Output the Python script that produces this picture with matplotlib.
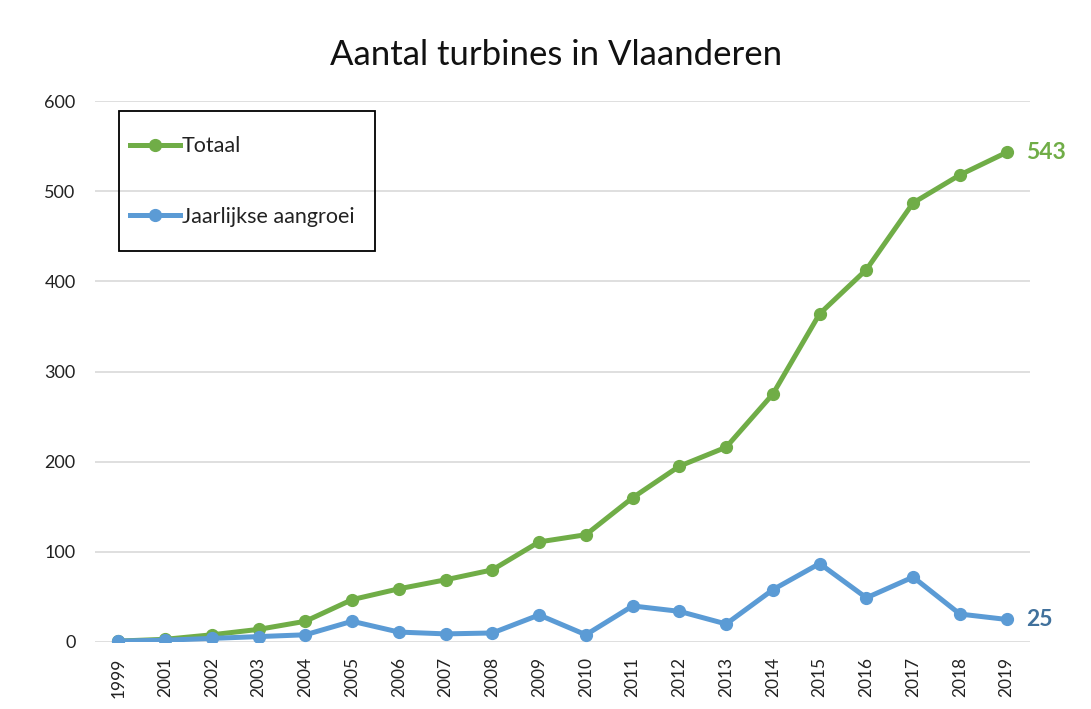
import matplotlib
matplotlib.use("Agg")
import matplotlib.pyplot as plt
from matplotlib.patches import Rectangle
import numpy as np

plt.rcParams['font.family'] = ['Lato', 'DejaVu Sans']

years = ['1999', '2001', '2002', '2003', '2004', '2005', '2006', '2007', '2008', '2009',
         '2010', '2011', '2012', '2013', '2014', '2015', '2016', '2017', '2018', '2019']
totaal = [1, 3, 8, 14, 23, 47, 59, 69, 80, 111,
          119, 160, 195, 216, 275, 364, 413, 487, 518, 543]
aangroei = [1, 2, 4, 6, 8, 23, 11, 9, 10, 30,
            8, 40, 34, 20, 58, 87, 49, 72, 31, 25]
yticks = [0, 100, 200, 300, 400, 500, 600]

green = '#70AD47'
blue = '#5B9BD5'

W, H = 1091, 709
fig = plt.figure(figsize=(W/100, H/100), dpi=100)
ax = fig.add_axes([95/W, 1-642/H, (1030-95)/W, (642-101)/H])

x = np.arange(len(years))
ax.plot(x, totaal, color=green, lw=3.6, marker='o', ms=8.5, label='Totaal',
        solid_joinstyle='round', zorder=3)
ax.plot(x, aangroei, color=blue, lw=3.6, marker='o', ms=8.5, label='Jaarlijkse aangroei',
        solid_joinstyle='round', zorder=3)

ax.set_xlim(-0.5, len(years) - 0.5)
ax.set_ylim(0, 600)
ax.set_yticks(yticks)
ax.set_yticklabels([str(v) for v in yticks], fontsize=13, color='#222222')
ax.set_xticks(x)
ax.set_xticklabels(years, rotation=90, fontsize=12.5, color='#222222')
ax.tick_params(axis='both', length=0)
ax.tick_params(axis='y', pad=14)
ax.tick_params(axis='x', pad=11)
ax.grid(axis='y', color='#D9D9D9', lw=1.2)
ax.set_axisbelow(True)
for s in ax.spines.values():
    s.set_visible(False)

ax.annotate(str(totaal[-1]), xy=(x[-1], totaal[-1]), xytext=(14, 0), textcoords='offset points',
            va='center', ha='left', fontsize=16.5, fontweight='bold', color=green, clip_on=False)
ax.annotate(str(aangroei[-1]), xy=(x[-1], aangroei[-1]), xytext=(14, 0), textcoords='offset points',
            va='center', ha='left', fontsize=16.5, fontweight='bold', color='#41719C', clip_on=False)

fig.text(556/W, 1-55/H, 'Aantal turbines in Vlaanderen', ha='center', va='center',
         fontsize=25, color='#111111')

# legend box
fig.patches.append(Rectangle((119/W, 1-251/H), (375-119)/W, (251-111)/H,
                             transform=fig.transFigure, fill=False, edgecolor='black',
                             lw=1.3, zorder=5))
leg = fig.legend(loc='center left', bbox_to_anchor=(130/W, 1-181.5/H),
                 fontsize=15.5, frameon=False,
                 labelspacing=2.35, handlelength=2.3, handletextpad=0.1,
                 borderpad=0, borderaxespad=0)
for t in leg.get_texts():
    t.set_color('#222222')

fig.savefig('out.png', dpi=100, facecolor='white')
